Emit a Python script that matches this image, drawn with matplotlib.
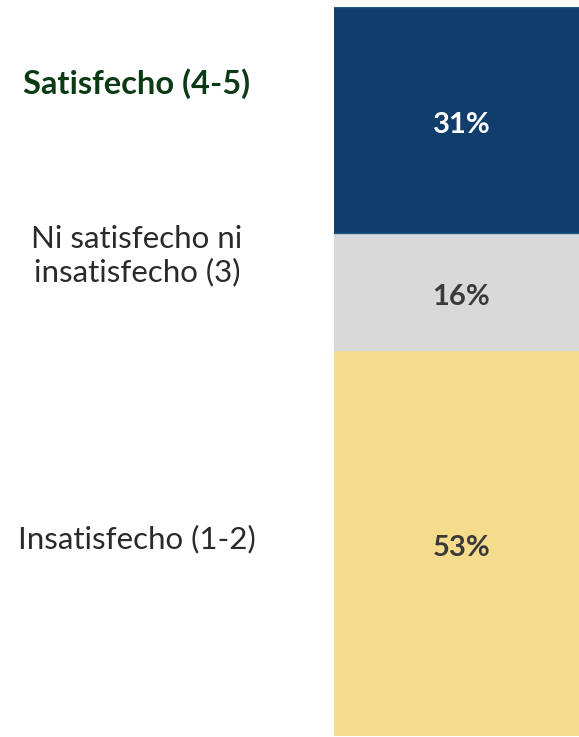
import matplotlib.pyplot as plt
from matplotlib.transforms import offset_copy

# datos (de abajo hacia arriba)
categorias = ['Insatisfecho (1-2)', 'Ni satisfecho ni\ninsatisfecho (3)', 'Satisfecho (4-5)']
valores = [53, 16, 31]
etiquetas = ['53%', '16%', '31%']

colores = ['#F5DB8C', '#D9D9D9', '#103D6B']
bordes = ['#F5DB8C', '#D9D9D9', '#1E5A84']
color_texto = ['#3A3A3A', '#3A3A3A', 'white']

plt.rcParams['font.family'] = ['Lato', 'DejaVu Sans']

fig = plt.figure(figsize=(5.79, 7.37), dpi=100)
# eje solo para la barra, a la derecha
ax = fig.add_axes([334 / 579, 1 / 737, 1 - 334 / 579, 729 / 737])
trans = offset_copy(ax.transData, fig=fig, x=0, y=-3, units='dots')

fondo = 0
for v, c, b, t, tc in zip(valores, colores, bordes, etiquetas, color_texto):
    ax.bar(0, v, width=2.4, bottom=fondo, color=c, edgecolor=b, linewidth=1, align='center')
    ax.text(0.52, fondo + v / 2, t, ha='center', va='center_baseline', fontsize=21,
            fontweight='bold', color=tc, transform=trans)
    fondo += v

ax.set_xlim(-0.0, 1.0)
ax.set_ylim(0, 100)
ax.axis('off')

# etiquetas de la izquierda
fig.text(137 / 579, 1 - 81 / 737, categorias[2], ha='center', va='center_baseline',
         fontsize=23.5, fontweight='bold', color='#0B3A14')
fig.text(137 / 579, 1 - 256 / 737, categorias[1], ha='center', va='center',
         fontsize=22.5, color='#2A2A2A', linespacing=1.2)
fig.text(137 / 579, 1 - 537 / 737, categorias[0], ha='center', va='center_baseline',
         fontsize=22.5, color='#2A2A2A')

fig.savefig('out.png', dpi=100)
